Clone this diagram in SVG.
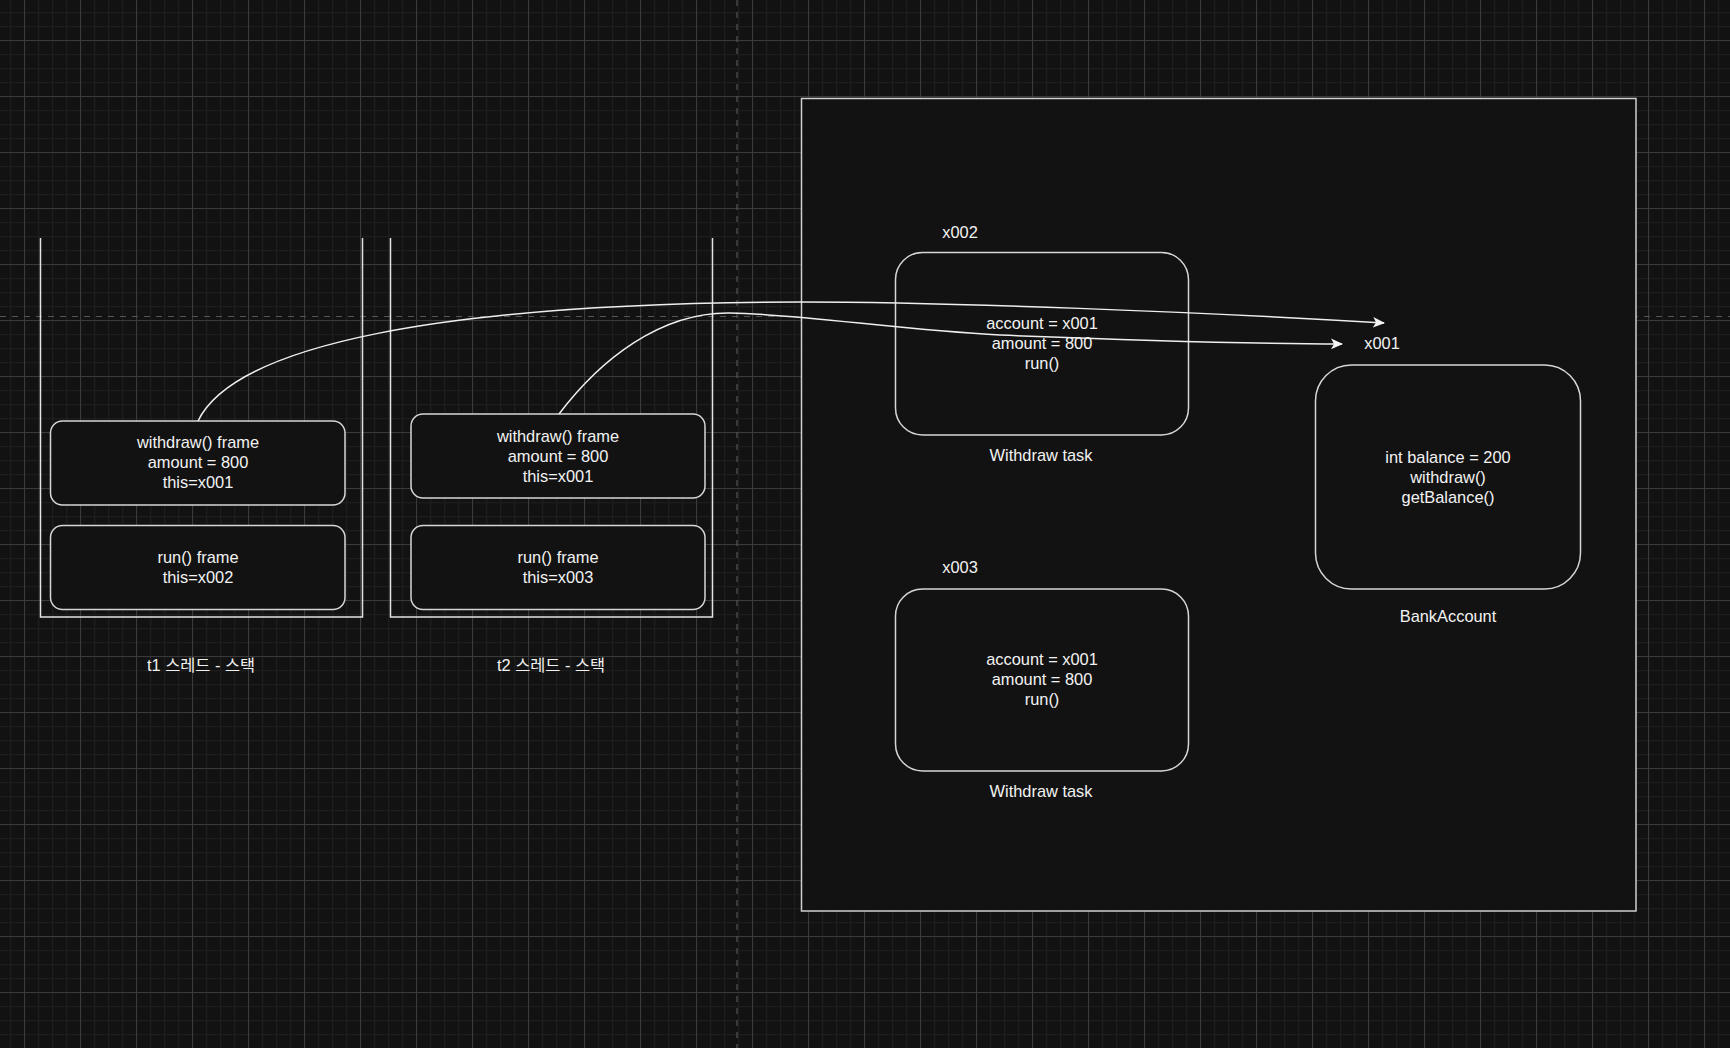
<svg xmlns="http://www.w3.org/2000/svg" width="1730" height="1048" viewBox="0 0 1730 1048">
  <defs>
    <pattern id="minor" x="10" y="12" width="14" height="14" patternUnits="userSpaceOnUse">
      <path d="M0.5 0V14M0 0.5H14" stroke="#1d1d1d" stroke-width="1.6" fill="none"/>
    </pattern>
    <pattern id="major" x="24" y="40" width="56" height="56" patternUnits="userSpaceOnUse">
      <path d="M0.5 0V56M0 0.5H56" stroke="#3a3a3a" stroke-width="1" fill="none"/>
    </pattern>
    <marker id="arrow" viewBox="0 0 12 12" refX="11" refY="6" markerWidth="12" markerHeight="12" markerUnits="userSpaceOnUse" orient="auto">
      <path d="M0 0.6L12 6L0 11.4L3 6Z" fill="#f4f4f4"/>
    </marker>
    <style>
      text { font-family: "Liberation Sans", Arial, "Noto Sans CJK KR", sans-serif; font-size: 16.4px; fill: #f2f2f2; text-anchor: middle; }
      .frame { fill: #121212; stroke: #d6d6d6; stroke-width: 1.5; }
      .stack { fill: none; stroke: #e2e2e2; stroke-width: 1.5; }
      .obj { fill: #121212; stroke: #d6d6d6; stroke-width: 1.5; }
      .edge { fill: none; stroke: #efefef; stroke-width: 1.5; }
      .pagebreak { stroke: #555; stroke-width: 1.2; stroke-dasharray: 6 6; fill: none; }
    </style>
  </defs>

  <rect width="1730" height="1048" fill="#121212"/>
  <rect width="1730" height="1048" fill="url(#minor)"/>
  <rect width="1730" height="1048" fill="url(#major)"/>

  <g id="page-breaks">
    <line class="pagebreak" x1="0" y1="316.5" x2="1730" y2="316.5"/>
    <line class="pagebreak" x1="737" y1="0" x2="737" y2="1048"/>
  </g>

  <g id="heap">
    <rect x="801.5" y="98.5" width="834.5" height="812.5" fill="#121212" stroke="#cfcfcf" stroke-width="1.5"/>
  </g>

  <g id="t1-stack">
    <path class="stack" d="M40.5 238V617H362.5V238"/>
    <text x="201" y="671">t1 스레드 - 스택</text>
  </g>
  <g id="t1-withdraw-frame">
    <rect class="frame" x="50.5" y="421" width="294.5" height="84" rx="12"/>
    <text x="198" y="448">withdraw() frame</text>
    <text x="198" y="468">amount = 800</text>
    <text x="198" y="488">this=x001</text>
  </g>
  <g id="t1-run-frame">
    <rect class="frame" x="50.5" y="525.5" width="294.5" height="84" rx="12"/>
    <text x="198" y="563">run() frame</text>
    <text x="198" y="583">this=x002</text>
  </g>

  <g id="t2-stack">
    <path class="stack" d="M390.5 238V617H712.5V238"/>
    <text x="551" y="671">t2 스레드 - 스택</text>
  </g>
  <g id="t2-withdraw-frame">
    <rect class="frame" x="411" y="414" width="294" height="84" rx="12"/>
    <text x="558" y="441.5">withdraw() frame</text>
    <text x="558" y="461.5">amount = 800</text>
    <text x="558" y="481.5">this=x001</text>
  </g>
  <g id="t2-run-frame">
    <rect class="frame" x="411" y="525.5" width="294" height="84" rx="12"/>
    <text x="558" y="563">run() frame</text>
    <text x="558" y="583">this=x003</text>
  </g>

  <g id="task-x002">
    <text x="960" y="237.5">x002</text>
    <rect class="obj" x="895.5" y="252.5" width="293" height="182.5" rx="27"/>
    <text x="1042" y="329">account = x001</text>
    <text x="1042" y="349">amount = 800</text>
    <text x="1042" y="369">run()</text>
    <text x="1041" y="461">Withdraw task</text>
  </g>

  <g id="task-x003">
    <text x="960" y="573">x003</text>
    <rect class="obj" x="895.5" y="589" width="293" height="182" rx="27"/>
    <text x="1042" y="665">account = x001</text>
    <text x="1042" y="685">amount = 800</text>
    <text x="1042" y="705">run()</text>
    <text x="1041" y="796.5">Withdraw task</text>
  </g>

  <g id="bank-account">
    <text x="1382" y="349">x001</text>
    <rect class="obj" x="1315.5" y="365" width="265" height="224" rx="36"/>
    <text x="1448" y="462.5">int balance = 200</text>
    <text x="1448" y="482.5">withdraw()</text>
    <text x="1448" y="502.5">getBalance()</text>
    <text x="1448" y="622">BankAccount</text>
  </g>

  <g id="connectors">
    <path class="edge" marker-end="url(#arrow)" d="M198 421C235 345 440 303 800 302C950 302 1200 312 1384 323"/>
    <path class="edge" marker-end="url(#arrow)" d="M559 414C600 360 660 312 730 313C800 314 900 330 1000 335C1150 341 1250 343.5 1342 344"/>
  </g>
</svg>
